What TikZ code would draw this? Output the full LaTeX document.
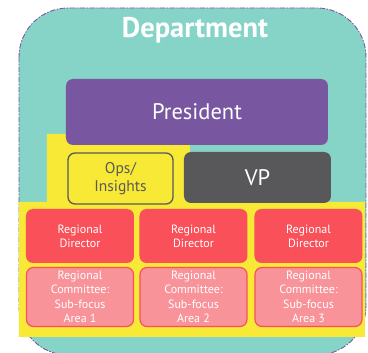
\documentclass[tikz,border=0pt]{standalone}
\usepackage{fontspec}
\setmainfont{PT Sans}
\definecolor{deptteal}{HTML}{86D4C8}
\definecolor{deptline}{HTML}{7A56A2}
\definecolor{prespurple}{HTML}{7856A0}
\definecolor{vpgray}{HTML}{58585A}
\definecolor{opsyellow}{HTML}{F7E935}
\definecolor{opsline}{HTML}{5A5A5A}
\definecolor{dirred}{HTML}{F9505A}
\definecolor{compink}{HTML}{F9939A}
\begin{document}
\begin{tikzpicture}[x=1pt,y=-1pt, line join=round, line cap=round,
	box/.style={rounded corners=7pt, inner sep=0pt, align=center, text=white},
	bigbox/.style={box, font=\fontsize{22.5}{26}\selectfont},
	dirbox/.style={box, fill=dirred, minimum width=108pt, minimum height=54pt,
		font=\fontsize{12}{14}\selectfont},
	combox/.style={box, fill=compink, draw=dirred, line width=1.2pt,
		minimum width=107pt, minimum height=59pt,
		font=\fontsize{12}{14.5}\selectfont}]
	\useasboundingbox (0,0) rectangle (368,353);
	% department frame
	\path[fill=deptteal, draw=deptline, line width=0.9pt, dash pattern=on 5pt off 2pt on 1pt off 2pt,
		rounded corners=49pt] (19,8) rectangle (366,355);
	\node[text=white, font=\bfseries\fontsize{28.5}{32}\selectfont] (dept) at (195,30) {Department};
	% yellow band
	\fill[opsyellow] (47,134)--(190,134)--(190,202)--(365,202)--(365,337)--(19,337)--(19,202)--(47,202)--cycle;
	% top levels
	\node[bigbox, fill=prespurple, minimum width=262pt, minimum height=66pt] (pres) at (197,112) {President};
	\node[box, fill=opsyellow, draw=opsline, line width=1.3pt, text=opsline,
		minimum width=105pt, minimum height=51pt, font=\fontsize{15.5}{18}\selectfont] (ops) at (120.5,178.5) {Ops/\\Insights};
	\node[bigbox, fill=vpgray, minimum width=147pt, minimum height=51pt] (vp) at (257.5,177.5) {VP};
	% regions
	\foreach \i/\x in {1/80,2/193.5,3/308.5}{
		\node[dirbox] (dir\i) at (\x,236) {Regional\\Director};
		\node[combox] (com\i) at (\x,297) {Regional\\Committee:\\Sub-focus\\Area \i};
	}
\end{tikzpicture}
\end{document}
